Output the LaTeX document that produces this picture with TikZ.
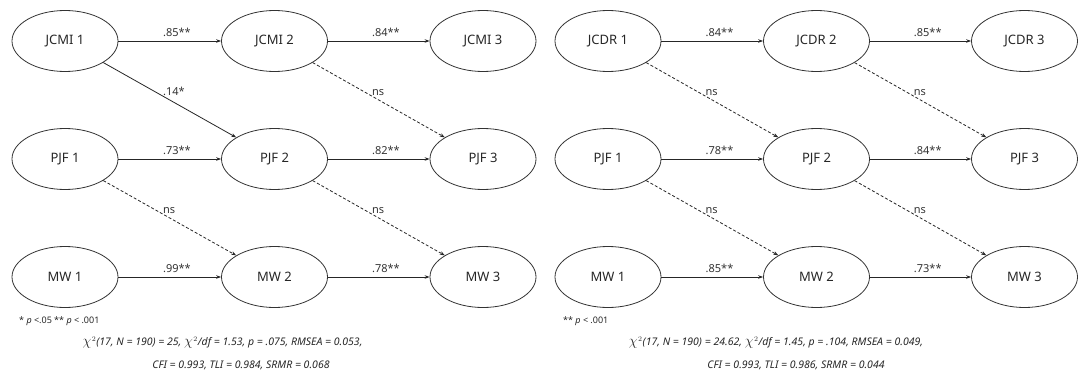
\documentclass[tikz,border=0pt]{standalone}
\usepackage{fontspec}
\setmainfont{Noto Sans}
\usetikzlibrary{arrows.meta,shapes.geometric}
\newcommand{\chisq}{{\fontsize{14}{14}\selectfont$\chi$}\kern0.5pt$^2$}

\begin{document}
\begin{tikzpicture}[x=1pt,y=-1pt,
  latent/.style={ellipse, draw=black!80, line width=0.8pt,
    minimum width=106pt, minimum height=61pt, inner sep=0pt,
    font=\fontsize{13}{15}\selectfont, text=black!85},
  effect/.style={draw=black!85, line width=0.8pt,
    -{Stealth[length=5pt,width=3.6pt]}},
  nseffect/.style={effect, dash pattern=on 3pt off 2pt},
  coef/.style={font=\fontsize{11}{13}\selectfont, text=black!80,
    inner sep=0pt, anchor=south west, xshift=-7pt, yshift=4pt},
  note/.style={font=\fontsize{9}{11}\selectfont, text=black!85, inner sep=0pt},
  fit/.style={font=\fontsize{10.5}{13}\selectfont\itshape, text=black!85, inner sep=0pt},
]
\useasboundingbox (0,0) rectangle (1078,377);

% ---- Model A: JCMI, PJF, MW ----
\node[latent] (a11) at (65,41)    {JCMI 1};
\node[latent] (a12) at (274.5,41) {JCMI 2};
\node[latent] (a13) at (483,41)   {JCMI 3};
\node[latent] (a21) at (65,159)   {PJF 1};
\node[latent] (a22) at (274.5,159){PJF 2};
\node[latent] (a23) at (483,159)  {PJF 3};
\node[latent] (a31) at (65,277)   {MW 1};
\node[latent] (a32) at (274.5,277){MW 2};
\node[latent] (a33) at (483,277)  {MW 3};

\draw[effect] (a11) -- node[coef]{.85**} (a12);
\draw[effect] (a12) -- node[coef]{.84**} (a13);
\draw[effect] (a21) -- node[coef]{.73**} (a22);
\draw[effect] (a22) -- node[coef]{.82**} (a23);
\draw[effect] (a31) -- node[coef]{.99**} (a32);
\draw[effect] (a32) -- node[coef]{.78**} (a33);
\draw[effect]   (a11) -- node[coef]{.14*} (a22);
\draw[nseffect] (a12) -- node[coef]{ns} (a23);
\draw[nseffect] (a21) -- node[coef]{ns} (a32);
\draw[nseffect] (a22) -- node[coef]{ns} (a33);

\node[note, anchor=west] (anote) at (19,321) {* \textit{p} <.05 ** \textit{p} < .001};
\node[fit] (afit1) at (222.5,343) {\chisq(17, N = 190) = 25, \chisq/df = 1.53, p = .075, RMSEA = 0.053,};
\node[fit] (afit2) at (241,365) {CFI = 0.993, TLI = 0.984, SRMR = 0.068};

% ---- Model B: JCDR, PJF, MW ----
\node[latent] (b11) at (608,41)    {JCDR 1};
\node[latent] (b12) at (816.5,41)  {JCDR 2};
\node[latent] (b13) at (1024.5,41) {JCDR 3};
\node[latent] (b21) at (608,159)   {PJF 1};
\node[latent] (b22) at (816.5,159) {PJF 2};
\node[latent] (b23) at (1024.5,159){PJF 3};
\node[latent] (b31) at (608,277)   {MW 1};
\node[latent] (b32) at (816.5,277) {MW 2};
\node[latent] (b33) at (1024.5,277){MW 3};

\draw[effect] (b11) -- node[coef]{.84**} (b12);
\draw[effect] (b12) -- node[coef]{.85**} (b13);
\draw[effect] (b21) -- node[coef]{.78**} (b22);
\draw[effect] (b22) -- node[coef]{.84**} (b23);
\draw[effect] (b31) -- node[coef]{.85**} (b32);
\draw[effect] (b32) -- node[coef]{.73**} (b33);
\draw[nseffect] (b11) -- node[coef]{ns} (b22);
\draw[nseffect] (b12) -- node[coef]{ns} (b23);
\draw[nseffect] (b21) -- node[coef]{ns} (b32);
\draw[nseffect] (b22) -- node[coef]{ns} (b33);

\node[note, anchor=west] (bnote) at (563,321) {** \textit{p} < .001};
\node[fit] (bfit1) at (776,343) {\chisq(17, N = 190) = 24.62, \chisq/df = 1.45, p = .104, RMSEA = 0.049,};
\node[fit] (bfit2) at (796,365) {CFI = 0.993, TLI = 0.986, SRMR = 0.044};
\end{tikzpicture}
\end{document}
